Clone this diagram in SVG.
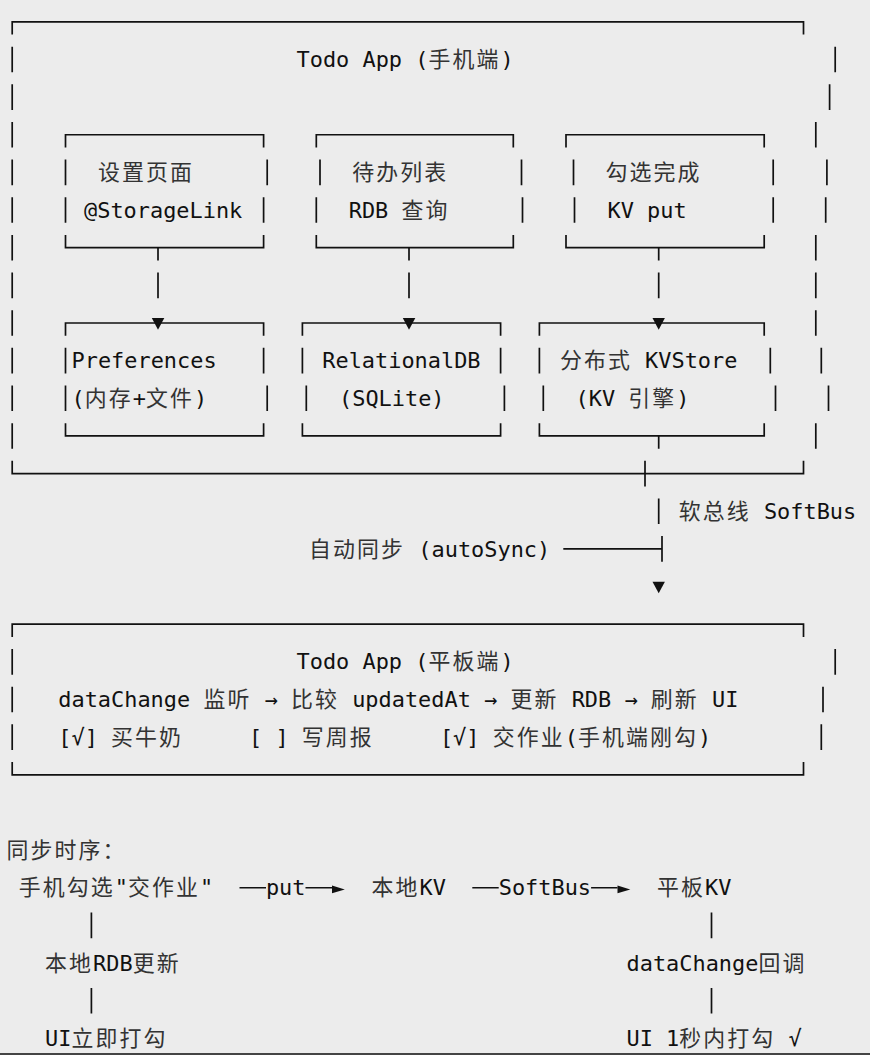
<svg xmlns="http://www.w3.org/2000/svg" width="870" height="1055" viewBox="0 0 870 1055">
<style>
.t{font-family:"DejaVu Sans Mono","Noto Sans CJK SC",monospace;font-size:21.92px;fill:#111;white-space:pre}
.c{letter-spacing:2.1px;fill:#333}
.ln{stroke:#111;stroke-width:1.7;fill:none}
.ar{fill:#111}
</style>
<rect x="0" y="0" width="870" height="1055" fill="#ececec"/>

<g id="phone-app">
<path class="ln" d="M12.2 34.6V21.8H803.5V34.6M12.2 460.8V473.6H803.5V460.8"/>
<path class="ln" d="M12.2 46.65v25.6M12.2 84.3v25.6M12.2 121.95v25.6M12.2 159.6v25.6M12.2 197.25v25.6M12.2 234.9v25.6M12.2 272.55v25.6M12.2 310.2v25.6M12.2 347.85v25.6M12.2 385.5v25.6M12.2 423.15v25.6"/>
<path class="ln" d="M835.2 46.65v25.6M829.6 84.3v25.6M815.8 121.95v25.6M826.9 159.6v25.6M825.7 197.25v25.6M815.8 234.9v25.6M815.8 272.55v25.6M815.8 310.2v25.6M821.3 347.85v25.6M828.5 385.5v25.6M815.8 423.15v25.6"/>
<text class="t" xml:space="preserve" x="296.5" y="67.05">Todo App (<tspan class="c">手机端</tspan>)</text>
</g>

<g id="node-settings">
<path class="ln" d="M65.5 147.55V134.75H263.6V147.55M65.5 234.9V247.7H263.6V234.9M65.5 159.6v25.6M65.5 197.25v25.6M267.2 159.6v25.6M263.6 197.25v25.6"/>
<text class="t" xml:space="preserve" x="98" y="180"><tspan class="c">设置页面</tspan></text>
<text class="t" xml:space="preserve" x="84" y="217.65">@StorageLink</text>
</g>

<g id="node-list">
<path class="ln" d="M316.3 147.55V134.75H513.3V147.55M316.3 234.9V247.7H513.3V234.9M320 159.6v25.6M316.3 197.25v25.6M521.5 159.6v25.6M522.5 197.25v25.6"/>
<text class="t" xml:space="preserve" x="352.3" y="180"><tspan class="c">待办列表</tspan></text>
<text class="t" xml:space="preserve" x="348.7" y="217.65">RDB <tspan class="c">查询</tspan></text>
</g>

<g id="node-check">
<path class="ln" d="M566 147.55V134.75H764.2V147.55M566 234.9V247.7H764.2V234.9M573.5 159.6v25.6M574.5 197.25v25.6M773.2 159.6v25.6M773.2 197.25v25.6"/>
<text class="t" xml:space="preserve" x="605.5" y="180"><tspan class="c">勾选完成</tspan></text>
<text class="t" xml:space="preserve" x="607.5" y="217.65">KV put</text>
</g>

<g id="node-preferences">
<path class="ln" d="M65.5 335.8V323H263.6V335.8M65.5 423.15V435.95H263.6V423.15M65.5 347.85v25.6M65.5 385.5v25.6M263.6 347.85v25.6M267.2 385.5v25.6"/>
<text class="t" xml:space="preserve" x="71.5" y="368.25">Preferences</text>
<text class="t" xml:space="preserve" x="71.5" y="405.9">(<tspan class="c">内存</tspan>+<tspan class="c">文件</tspan>)</text>
</g>

<g id="node-rdb">
<path class="ln" d="M302.4 335.8V323H500.6V335.8M302.4 423.15V435.95H500.6V423.15M302.4 347.85v25.6M306.3 385.5v25.6M500.6 347.85v25.6M504.4 385.5v25.6"/>
<text class="t" xml:space="preserve" x="322.3" y="368.25">RelationalDB</text>
<text class="t" xml:space="preserve" x="339" y="405.9">(SQLite)</text>
</g>

<g id="node-kvstore">
<path class="ln" d="M539.4 335.8V323H764.2V335.8M539.4 423.15V435.95H764.2V423.15M539.4 347.85v25.6M543.3 385.5v25.6M770.3 347.85v25.6M775.5 385.5v25.6"/>
<text class="t" xml:space="preserve" x="559.9" y="368.25"><tspan class="c">分布式</tspan> KVStore</text>
<text class="t" xml:space="preserve" x="575.5" y="405.9">(KV <tspan class="c">引擎</tspan>)</text>
</g>

<g id="tablet-app">
<path class="ln" d="M12.2 637V624.2H803.5V637M12.2 762V774.8H803.5V762"/>
<path class="ln" d="M12.2 649.05v25.6M12.2 686.7v25.6M12.2 724.35v25.6M835.2 649.05v25.6M823 686.7v25.6M821.3 724.35v25.6"/>
<text class="t" xml:space="preserve" x="296.5" y="669.45">Todo App (<tspan class="c">平板端</tspan>)</text>
<text class="t" xml:space="preserve" x="58.3" y="707.1">dataChange <tspan class="c">监听</tspan> → <tspan class="c">比较</tspan> updatedAt → <tspan class="c">更新</tspan> RDB → <tspan class="c">刷新</tspan> UI</text>
<text class="t" xml:space="preserve" x="58.3" y="744.75">[√] <tspan class="c">买牛奶</tspan></text>
<text class="t" xml:space="preserve" x="249.1" y="744.75">[ ] <tspan class="c">写周报</tspan></text>
<text class="t" xml:space="preserve" x="439.9" y="744.75">[√] <tspan class="c">交作业</tspan>(<tspan class="c">手机端刚勾</tspan>)</text>
</g>

<g id="sequence-title">
<text class="t" xml:space="preserve" x="6.5" y="857.7"><tspan class="c">同步时序：</tspan></text>
</g>
<g id="seq-phone-check"><text class="t" xml:space="preserve" x="18.7" y="895.35"><tspan class="c">手机勾选</tspan>"<tspan class="c">交作业</tspan>"</text></g>
<g id="seq-local-kv"><text class="t" xml:space="preserve" x="371.5" y="895.35"><tspan class="c">本地</tspan>KV</text></g>
<g id="seq-tablet-kv"><text class="t" xml:space="preserve" x="657.1" y="895.35"><tspan class="c">平板</tspan>KV</text></g>
<g id="seq-local-rdb"><text class="t" xml:space="preserve" x="45.1" y="970.65"><tspan class="c">本地</tspan>RDB<tspan class="c">更新</tspan></text></g>
<g id="seq-datachange"><text class="t" xml:space="preserve" x="626.5" y="970.65">dataChange<tspan class="c">回调</tspan></text></g>
<g id="seq-ui-now"><text class="t" xml:space="preserve" x="45.1" y="1045.95">UI<tspan class="c">立即打勾</tspan></text></g>
<g id="seq-ui-tablet"><text class="t" xml:space="preserve" x="626.5" y="1045.95">UI 1<tspan class="c">秒内打勾</tspan> √</text></g>

<g id="connectors">
<path class="ln" d="M158 247.7V260.5M158 272.55v25.6M409 247.7V260.5M409 272.55v25.6M658.7 247.7V260.5M658.7 272.55v25.6"/>
<polygon class="ar" points="151.8,318.1 164.3,318.1 158,329.8"/>
<polygon class="ar" points="402.8,318.1 415.3,318.1 409,329.8"/>
<polygon class="ar" points="652.5,318.1 664.9,318.1 658.7,329.8"/>
<path class="ln" d="M658.7 435.95V448.75M645 460.8v25.6M658.7 498.45v25.6M662 536.1v25.6M563.3 548.9H662"/>
<polygon class="ar" points="652.5,581.65 664.9,581.65 658.7,593.35"/>
<text class="t" xml:space="preserve" x="678.7" y="518.85"><tspan class="c">软总线</tspan> SoftBus</text>
<text class="t" xml:space="preserve" x="309.1" y="556.5"><tspan class="c">自动同步</tspan> (autoSync)</text>
<path class="ln" d="M239.5 887.75H266M305.5 887.75H332M472.3 887.75H498.7M591.1 887.75H617.5"/>
<polygon class="ar" points="332,885.6 344.8,889.4 332,893.2"/>
<polygon class="ar" points="617.5,885.6 630.3,889.4 617.5,893.2"/>
<text class="t" xml:space="preserve" x="265.9" y="895.35">put</text>
<text class="t" xml:space="preserve" x="498.7" y="895.35">SoftBus</text>
<path class="ln" d="M91.4 912.6v25.6M91.4 987.9v25.6M711.5 912.6v25.6M711.5 987.9v25.6"/>
</g>

<path d="M0 1054H870M12.7 1053v2M825 1053v2" stroke="#444" stroke-width="1.8" fill="none"/>
</svg>
